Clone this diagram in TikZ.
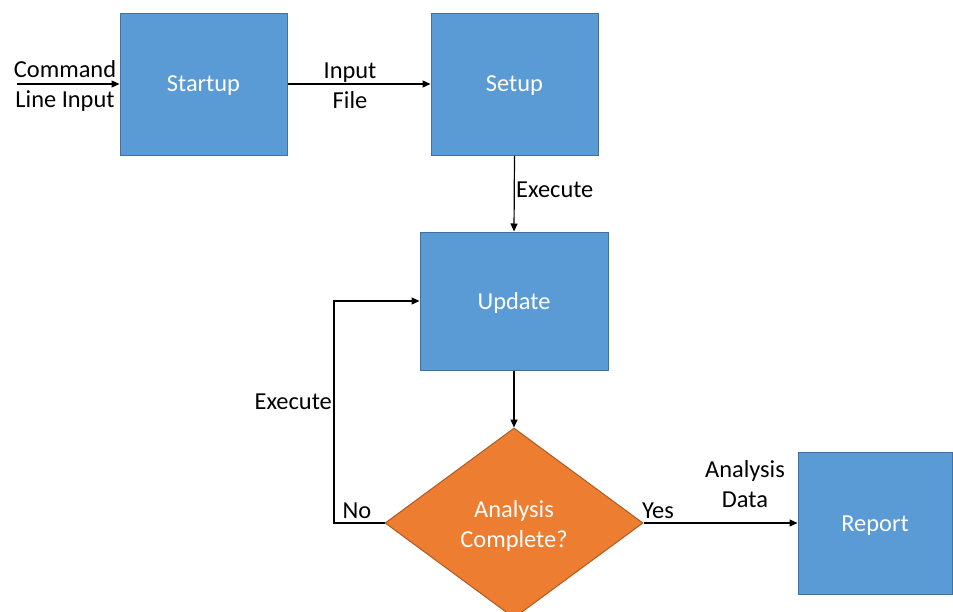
\documentclass[tikz,border=0pt]{standalone}
\usepackage{fontspec}
\setmainfont{Carlito}
\usetikzlibrary{shapes.geometric,arrows.meta}
\definecolor{boxblue}{HTML}{5B9BD5}
\definecolor{boxblueedge}{HTML}{41719C}
\definecolor{diaorange}{HTML}{ED7D31}
\definecolor{diaorangeedge}{HTML}{AE5A21}
\tikzset{
  x=1pt, y=-1pt,
  procbox/.style={draw=boxblueedge, fill=boxblue, line width=1pt, text=white, inner sep=0pt, font=\fontsize{24.4}{29}\selectfont},
  decbox/.style={shape=diamond, draw=diaorangeedge, fill=diaorange, line width=1pt, text=white, inner sep=0pt, minimum width=258pt, minimum height=190pt, align=center, font=\fontsize{24.4}{30}\selectfont},
  conn/.style={line width=1.2pt, -{Triangle[length=8pt,width=7pt]}},
  lbl/.style={text=black, inner sep=0pt, align=center, font=\fontsize{24.4}{29.5}\selectfont}
}
\begin{document}
\begin{tikzpicture}
\useasboundingbox (0,0) rectangle (953,611);
\clip (0,0) rectangle (953,611);
% boxes
\node[procbox, minimum width=167pt, minimum height=142pt] (startup) at (203.5,84) {};
\node[procbox, minimum width=167pt, minimum height=142pt] (setup) at (514.5,84) {};
\node[procbox, minimum width=188pt, minimum height=138pt] (update) at (514,301) {};
\node[decbox] (decide) at (514,523) {};
\node[procbox, minimum width=154pt, minimum height=142pt] (report) at (875,523) {};
% box texts
\node[procbox, draw=none, fill=none] (tstartup) at (203.5,86) {Startup};
\node[procbox, draw=none, fill=none] (tsetup) at (514.5,86) {Setup};
\node[procbox, draw=none, fill=none] (tupdate) at (514,303) {Update};
\node[procbox, draw=none, fill=none, align=center, font=\fontsize{24.4}{30}\selectfont] (tdecide) at (514,526) {Analysis\\Complete?};
\node[procbox, draw=none, fill=none] (treport) at (875,526) {Report};
% free-end coordinates
\coordinate (cmdin) at (17,84);
\coordinate (loopbl) at (334,523);
\coordinate (looptl) at (334,301);
% connectors
\draw[conn] (cmdin) -- (startup.west);
\draw[conn] (startup.east) -- (setup.west);
\draw[conn] (setup.south) -- (update.north);
\draw[conn] (update.south) -- (decide.north);
\draw[conn] (decide.west) -- (loopbl) -- (looptl) -- (update.west);
\draw[conn] (decide.east) -- (report.west);
% labels
\node[lbl] (lcmd) at (65,86) {Command\\Line Input};
\node[lbl] (lfile) at (350,86) {Input\\File};
\node[lbl, anchor=west] (lexec1) at (516,190) {Execute};
\node[lbl, anchor=east] (lexec2) at (332,402) {Execute};
\node[lbl] (lno) at (357,511) {No};
\node[lbl] (lyes) at (658,511) {Yes};
\node[lbl] (ldata) at (745,484) {Analysis\\Data};
\end{tikzpicture}
\end{document}
